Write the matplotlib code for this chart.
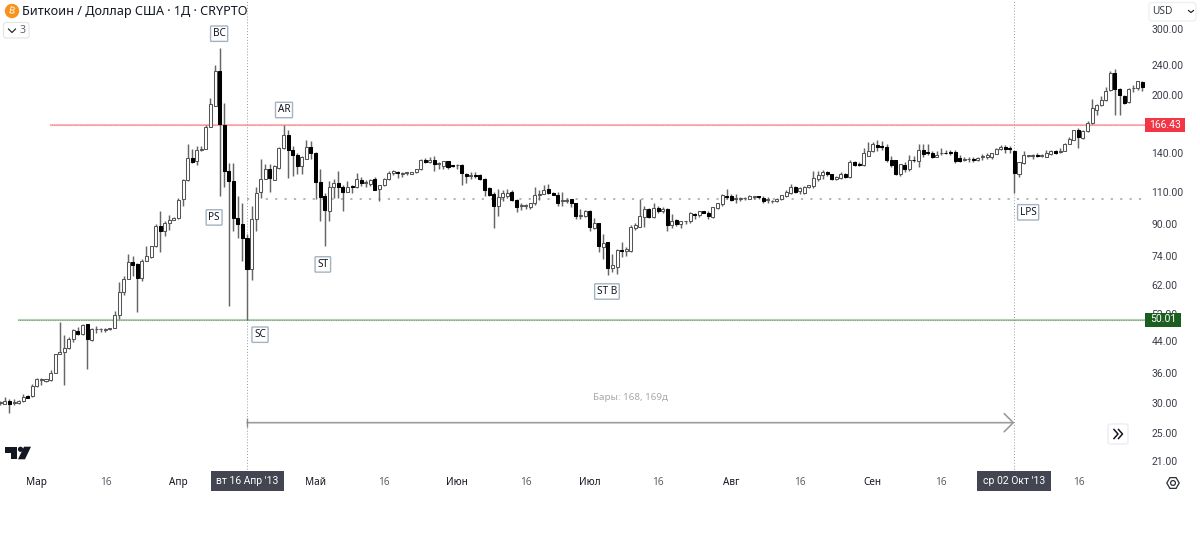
import numpy as np
import matplotlib
matplotlib.use("Agg")
import matplotlib.pyplot as plt
from matplotlib.patches import Circle, Polygon, FancyBboxPatch, RegularPolygon, Rectangle
from matplotlib.transforms import IdentityTransform
from matplotlib.ticker import NullFormatter, NullLocator, FixedLocator, FixedFormatter

plt.rcParams['font.family'] = ['Noto Sans', 'DejaVu Sans']

first_bar = -54
# each row: open, high, low, close (USD)
ohlc_rows = [
(30.0,30.4,29.7,30.2),(29.9,31.2,29.8,30.4),(30.4,30.7,28.2,29.9),(30.1,30.7,29.7,30.2),(30.0,30.5,29.9,30.4),
(30.4,31.8,30.2,31.2),(31.3,31.5,30.9,31.0),(31.3,33.8,31.1,33.4),(33.4,35.0,33.1,34.7),(34.5,35.1,33.5,34.7),
(34.4,34.9,34.2,34.7),(34.5,36.7,34.3,36.2),(36.2,40.7,36.1,40.6),(40.6,49.3,40.5,41.2),(41.1,45.5,33.5,42.2),
(42.2,45.1,41.9,44.5),(44.4,47.4,43.8,46.9),(46.7,48.0,45.5,46.0),(45.8,48.9,45.6,48.6),(48.7,48.9,36.9,44.5),
(44.3,47.6,43.9,47.2),(47.2,48.1,46.3,47.4),(47.2,47.7,46.6,47.3),(47.0,47.7,46.5,47.2),(47.2,47.6,47.0,47.5),
(47.6,52.9,47.5,51.7),(51.6,63,50.3,59.4),(59.3,65.5,58.2,64.5),(64.5,75,64.2,71.3),(71.3,74,65.5,70),
(70.7,71,52.7,64.6),(64.6,73,63.4,72.1),(71.9,78.7,71.8,74),(73.8,79,73.4,78.7),(78.8,90,78.6,89.4),
(89,97.6,75.8,86.7),(86.3,92,84,90.9),(90.9,95.4,87,92.8),(92.8,94,92.5,93.6),(93.6,106,93.3,104.5),
(105.6,119,100.8,118.5),(118,147.4,117.6,135.5),(135.5,143,131.5,132),(133,146,130,142.6),(142.5,146,141,143),
(143.2,166,143,163.6),(164,196,163.8,188.5),(187,240,186.5,232),(232,266,107,166.8),(166,190,113,125),
(125,131,54.6,117.6),(117.6,131,86.5,93.7),(93.5,107,83,90.5),(90.5,102.7,72,83),(83,85,50.01,68.6),
(68.6,100.8,64,93.3),(93.3,113,86.5,109.4),(110,134.5,105.7,119.2),(119,130.6,118.8,127),(126.5,130.8,110,120),
(118.5,130,118,128.9),(127.7,144.6,126.5,144.4),(144,166.4,143.5,155.8),(155.8,161,120,142.5),(142.5,146,121.4,137.7),
(137.7,140,123,128.9),(128.7,137,123,136.2),(134.7,151,134.5,145),(145,150,135,140),(140,140.5,105,116.8),
(117,127,92,106.4),(107,109,79,98.2),(98,117.6,92,113.5),(113.5,119,106,116.5),(116.5,125,106,113.3),
(113.5,114.7,98,110),(110,117.5,109.8,113.5),(113.5,114.5,109.5,113.3),(113,123.5,112.7,118.7),(118,120.5,114,116),
(116.5,118.5,113.5,116.7),(115.5,119,114.3,118.6),(119,120.5,111,111.2),(112,115,104,114.5),(114.7,119.5,114,119.2),
(119.2,125,118.3,123.5),(123.5,125.5,122,124.7),(123.7,125,120,123.5),(123,124.5,120.5,123.3),(123.5,124,122,123.8),
(123,124.5,122.5,124),(124.2,127,123.5,126.7),(126.7,134.6,126,133.7),(133.7,135.3,131,132.5),(132.5,136.5,131,134),
(134,137,125,130.2),(130.5,132,126.7,130.5),(128.8,133.4,127,132.8),(132.8,133.4,127,128),(129.5,130,128,129),
(129.5,130.5,127,129.5),(130,130.5,115,123.3),(123,123.5,116,121.3),(121.5,124,119,121.5),(121.7,124,119.5,121.3),
(122,123,118,118.7),(118.7,119.5,107,111.5),(112.7,113.5,107,108),(108.5,110,88,101),(101,112,95,106.8),
(106.5,111,104,109.4),(107,112,106,109.5),(110,111,104,104.5),(104.5,105,97,100.3),(101,102.7,98.2,101),
(100.8,102,98.7,101),(100.5,103,99.3,102.5),(102.7,113.5,101.3,107.8),(107.8,111,104.5,108.8),(108.8,115,108.5,111.5),
(111.7,115.5,108.4,109.5),(109.5,110,107.6,108),(108,110,101,102.7),(104.3,110,101,104.3),(104.3,106.2,102.7,104.3),
(105,105.5,100.4,102.5),(102.5,103,93,94.7),(95,98.8,93,95),(94.8,98.2,94,98),(98,98.5,86.5,88.4),
(88,93.5,87.4,91),(90.6,90.9,76,78.7),(78.4,85,73,80.4),(80.7,81,65.8,68.7),(68.8,75,67,70.2),
(69.5,77.4,66.5,77),(77,80.6,73.5,76.5),(76.5,78.4,74,77.5),(76.5,89.5,76,88.4),(88.3,90.9,86.8,89.7),
(88.7,105,88.5,94.7),(94.5,100.8,88.4,98.7),(99,99.8,93.5,94.3),(94.5,102.7,93.7,99.8),(99.8,100.8,96.3,97.5),
(97.5,100.4,96.5,99.3),(99.2,99.8,86.7,89.8),(89.7,96,88,92.1),(92.3,93,89.3,90),(90,92.2,88,92),
(91.8,92.2,90.1,91.8),(91.8,97.2,90.7,96.3),(96,96.8,93,95.2),(95.2,98,94,97.6),(97.8,97.8,96.3,96.8),
(96.8,97.8,93.3,94.7),(94.5,100.4,93.7,100),(99.5,103,99,102.7),(102,108.6,100.8,108.2),(107.3,112,105.3,106.5),
(107,108.6,103.7,104.8),(105.5,108.3,103,105.5),(105.5,106.5,104,105.5),(105.7,106.8,104.5,105.7),(105.5,107.8,105,107.4),
(106.8,107.5,105,106.8),(107.3,107.4,105.5,106.3),(106,107,103,103.7),(104.6,106.5,103,104.6),(103.8,104.6,103,103.8),
(103.7,105.8,103.3,105.5),(105,108.2,104.6,107.6),(107,111,106.8,110),(109.5,115.3,108.5,113.2),(113.2,113.8,109,110.2),
(110.3,113.3,108.5,112.5),(109.4,113.8,108.5,113.5),(113.5,115,112.5,114.8),(114.3,125,112.5,119.5),(119.3,125,117.5,122),
(121.8,126,119,124),(124,125,121,122.5),(122.5,122.8,118,118.8),(118.8,121.4,118,120.5),(120,124,119,123),
(123,123.5,120,120.7),(120.5,133.7,120,132.2),(132,132.6,129,129.5),(130.5,132,129,130),(129.5,143.8,129,139.3),
(137.5,149.7,137,141.5),(141,149.7,140.5,147.3),(147,151,141,144.8),(145.3,150,142,145),(145.3,147.5,132,134),
(134,137,128,130),(133.5,134,122,122.5),(122.5,130.8,121.5,130.2),(129.5,132,124,126.5),(126.5,138,125,133.8),
(133.8,137,132,133.5),(133,147.5,128,142.7),(142.5,147.5,136.5,139),(140.5,147.5,137.7,140),(140,141.5,135.5,136),
(136,141,136,138),(139.5,143.8,138,139.5),(139.5,142.7,138.5,139.3),(140,142.7,138,139.8),(140.5,142,131,133),
(135.5,138,132,133),(133.5,136,133.4,135),(134.5,136.2,132,134.5),(135,136,132.5,134),(133.5,136.2,133.4,135.3),
(136.2,138.6,134,136.5),(136,139.5,135,138),(136,140,135,139.3),(139,144.5,138.6,143.5),(143.5,146.5,142,145),
(144.7,146.5,139.5,143.2),(144.5,145.8,139.5,143.3),(141.5,142.3,109.5,123.5),(122.7,132.5,120.5,131.8),(131,141,130.5,137.7),
(137.5,138,136,137.7),(137,138.7,135,138),(138,139.5,136.5,137.4),(137.4,138.7,136,137.6),(136.5,142.7,136,140),
(139,142.7,138,141),(141,142.7,138.8,140),(140.5,144,140,141.2),(141.5,149,142,148),(148,154.5,148,152.7),
(151.7,161,151,160.5),(160.5,163,144.5,154.5),(153,161,151.8,160),(160,170,159,168.3),(167.5,195,167,184.5),
(182.5,189,177,188),(187.5,198.5,186,194),(193.5,210,192,205),(206,231,204,229),(229,233.5,176,207.7),
(207.7,209,177,199.5),(198.5,199.5,189,190),(191,209,190.5,207.7),(208,212,203,209),(208,218,206,217),
(216,217.5,205,210),
]
ohlc = np.array(ohlc_rows, dtype=float)
bar_index = first_bar + np.arange(len(ohlc))
opens, highs, lows, closes = ohlc.T

resistance_price = 166.43
support_price = 50.01
mid_price = 105.6
measure_start, measure_end = 0, 168

price_ticks = [300, 240, 200, 140, 110, 90, 74, 62, 52, 44, 36, 30, 25, 21]
time_pos = [-46, -31, -15, 15, 30, 46, 61, 75, 90, 106, 121, 137, 152, 182]
time_labels = ['Мар', '16', 'Апр', 'Май', '16', 'Июн', '16', 'Июл', '16', 'Авг', '16', 'Сен', '16', '16']

wyckoff_labels = [('BC', -6.1, 291), ('AR', 8.1, 182), ('PS', -7.2, 94), ('ST', 16.6, 70.4),
                  ('ST B', 78.8, 59.6), ('SC', 2.85, 45.7), ('LPS', 171, 97)]

fig = plt.figure(figsize=(12, 5.44), dpi=100, facecolor='white')
ax = fig.add_axes([0, 72/544, 1146/1200, 472/544])
ax.set_yscale('log')
ax.set_xlim(-54.07, 196.8)
ax.set_ylim(19.64, 358)
for s in ax.spines.values():
    s.set_visible(False)

# reference lines
ax.hlines(resistance_price, -43.1, 196.8, color='#fbb6b9', lw=1.5, zorder=1)
ax.hlines(resistance_price, -43.1, 196.8, color='#f23645', lw=0.5, ls=(0, (1, 1.5)), alpha=0.65, zorder=1)
ax.hlines(support_price, -50.1, 196.8, color='#b4cdb4', lw=1.5, zorder=1)
ax.hlines(support_price, -50.1, 196.8, color='#1b5e20', lw=0.5, ls=(0, (1, 1.5)), alpha=0.65, zorder=1)
ax.hlines(mid_price, measure_start, 196.8 - 0.2, color='#b0b0b0', lw=1.3, ls=(0, (1.2, 4.0)), zorder=1)
ax.vlines([measure_start, measure_end], 19.64, 358, color='#9a9a9a', lw=0.7, ls=(0, (1, 2)), zorder=1)

# candles
ax.vlines(bar_index, lows, highs, color='#666666', lw=1.05, zorder=2)
bottoms = np.minimum(opens, closes)
heights = np.maximum(np.abs(closes - opens), bottoms * 0.004)
up = closes >= opens
ax.bar(bar_index[up], heights[up], bottom=bottoms[up], width=0.66, facecolor='white',
       edgecolor='#555555', linewidth=0.75, zorder=3)
ax.bar(bar_index[~up], heights[~up], bottom=bottoms[~up], width=0.66, facecolor='black',
       edgecolor='black', linewidth=0.75, zorder=3)

# measurement arrow
arrow_price = 26.6
ax.annotate('', xy=(measure_end, arrow_price), xytext=(measure_start, arrow_price),
            arrowprops=dict(arrowstyle='->,head_length=0.65,head_width=0.65', color='#9c9c9c', lw=1.2,
                            shrinkA=0, shrinkB=0), zorder=4)
ax.vlines(measure_start, 25.9, 27.3, color='#8a8a8a', lw=1.0, zorder=4)
ax.text((measure_start + measure_end) / 2, 31.15, 'Бары: 168, 169д', ha='center', va='center',
        fontsize=7, color='#a8a8a8')

# pattern labels
for name, xv, yv in wyckoff_labels:
    ax.text(xv, yv, name, ha='center', va='center', fontsize=7.2, color='#131722', zorder=6, fontweight='medium',
            bbox=dict(boxstyle='round,pad=0.22,rounding_size=0.08', fc='white', ec='#a3b3c2', lw=1.0))

# axes ticks
ax.yaxis.tick_right()
ax.yaxis.set_major_locator(FixedLocator(price_ticks))
ax.yaxis.set_major_formatter(FixedFormatter(['%.2f' % p for p in price_ticks]))
ax.yaxis.set_minor_locator(NullLocator())
ax.yaxis.set_minor_formatter(NullFormatter())
ax.tick_params(axis='y', length=0, pad=4, labelsize=7.5, labelcolor='#3a3e48')
for lab in ax.get_yticklabels():
    lab.set_family(['Roboto', 'DejaVu Sans'])
ax.set_xticks(time_pos)
ax.set_xticklabels(time_labels)
ax.tick_params(axis='x', length=0, pad=3.5, labelsize=7.2)
for lab in ax.get_xticklabels():
    if lab.get_text() == '16':
        lab.set_color('#5d606b')
    else:
        lab.set_color('#131722')
        lab.set_fontweight('medium')

ident = IdentityTransform()
def P(x, y):
    return (x, 544 - y)
def T(x, y):
    return (x / 1200, 1 - y / 544)
def tag(x0, y0, x1, y1, text, color):
    fig.add_artist(Rectangle(P(x0, y1), x1 - x0, y1 - y0, transform=ident, fc=color, ec='none', zorder=20))
    t = fig.text(*T((x0 + x1) / 2, (y0 + y1) / 2), text, ha='center', va='center', color='white',
                 fontsize=7.5, zorder=21, family=['Roboto', 'DejaVu Sans'])
    return t

# price tags and date tags
tag(1145, 118, 1185, 131.5, '166.43', '#f23645')
tag(1145, 312.5, 1181, 326.5, '50.01', '#1b5e20')
tag(211, 471, 284, 491, "вт 16 Апр '13", '#434651')
tag(977, 471, 1051, 491, "ср 02 Окт '13", '#434651')

# chrome drawn in pixel space
fig.add_artist(Circle(P(12, 11), 7.2, transform=ident, fc='#f7931a', ec='none'))
fig.text(*T(12, 11.3), 'B', fontsize=7, color='white', ha='center', va='center', fontweight='bold', rotation=-12)
fig.text(*T(22, 11), 'Биткоин / Доллар США · 1Д · CRYPTO', fontsize=9.1, color='#131722', ha='left', va='center')

fig.add_artist(FancyBboxPatch(P(3.5, 38), 25.5, 15.5, boxstyle='round,pad=0,rounding_size=2.5', transform=ident,
                              fc='white', ec='#e4e6ea', lw=0.9))
fig.add_artist(plt.Line2D([8.5, 12, 15.5], [544-29, 544-32.5, 544-29], transform=ident, color='#131722', lw=0.8))
fig.text(*T(22, 30.5), '3', fontsize=7.5, color='#5d606b', ha='center', va='center')

fig.add_artist(FancyBboxPatch(P(1149, 21), 47, 18.5, boxstyle='round,pad=0,rounding_size=3', transform=ident,
                              fc='white', ec='#eceef1', lw=0.9))
fig.text(*T(1152, 11.5), 'USD', fontsize=7.3, color='#3a3e48', ha='left', va='center')
fig.add_artist(plt.Line2D([1188.5, 1191, 1193.5], [544-10.5, 544-12.5, 544-10.5], transform=ident, color='#131722', lw=0.8))

# logo
fig.add_artist(Polygon([P(5, 446.7), P(17, 446.7), P(17, 459.3), P(10.5, 459.3), P(10.5, 452.5), P(5, 452.5)], transform=ident, fc='#131722', ec='none'))
fig.add_artist(Circle(P(20.5, 449.3), 2.6, transform=ident, fc='#131722', ec='none'))
fig.add_artist(Polygon([P(24, 446.7), P(31, 446.7), P(25, 459.3), P(18, 459.3)], transform=ident, fc='#131722', ec='none'))

# scroll button
fig.add_artist(FancyBboxPatch(P(1108, 444), 20, 20, boxstyle='round,pad=0,rounding_size=2.5', transform=ident,
                              fc='white', ec='#eef0f3', lw=1.2))
for dx in (0, 4.5):
    fig.add_artist(plt.Line2D([1114 + dx, 1118 + dx, 1114 + dx], [544-429.5, 544-434, 544-438.5], transform=ident, color='#131722', lw=1.1))

# settings hexagon
fig.add_artist(RegularPolygon(P(1173, 483), 6, radius=6.2, orientation=np.pi/2, transform=ident, fc='white', ec='#2a2e39', lw=0.9))
fig.add_artist(Circle(P(1173, 483), 2.4, transform=ident, fc='white', ec='#2a2e39', lw=0.9))

fig.savefig('out.png', dpi=100, facecolor='white')
